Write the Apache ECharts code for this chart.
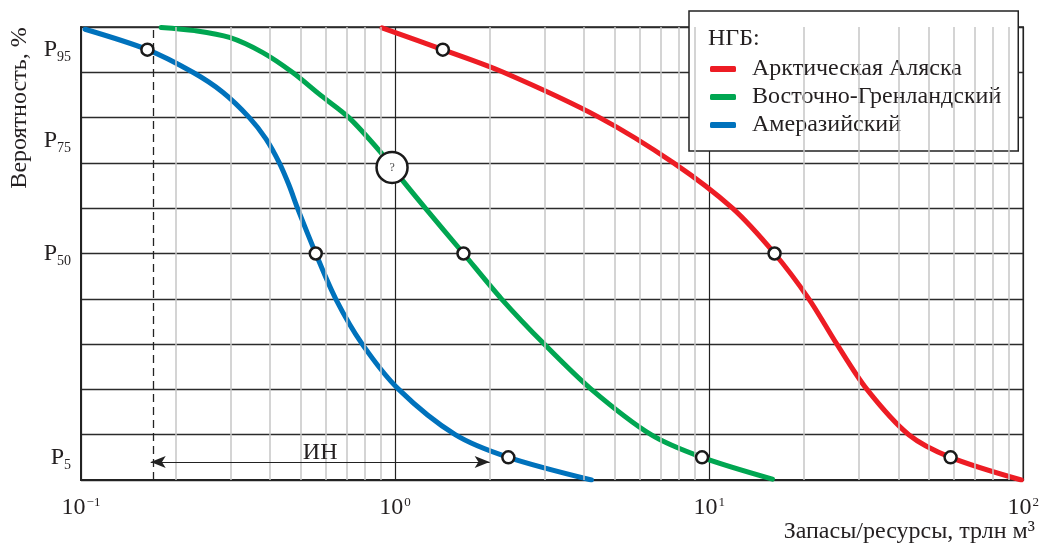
<!DOCTYPE html>
<html><head><meta charset="utf-8">
<script src="https://cdn.jsdelivr.net/npm/echarts@6/dist/echarts.min.js"></script>
<style>html,body{margin:0;padding:0;background:#fff}#c{width:1042px;height:545px}</style>
</head><body><div id="c"></div>
<script>
const FONT = '"Liberation Serif", "DejaVu Serif", "Times New Roman", serif';
const TXT = '#231f20';
const FS = 24;

// ---- data ----
const seriesNames = ['Арктическая Аляска', 'Восточно-Гренландский', 'Амеразийский'];
const seriesColors = ['#ed1c24', '#00a651', '#0072bc'];

const alaskaX = [0.909, 1.419, 2.212, 4.48, 7.7, 11.86, 16.15, 20.76, 25.5, 31.8, 43.2, 58.7, 98.6];
const alaskaY = [99.8, 95, 90, 80, 70, 60, 50, 40, 30, 20, 10, 5, 0];

const greenlandX = [0.180, 0.230, 0.297, 0.378, 0.471, 0.580, 0.713, 0.899, 0.978, 1.248, 1.651, 2.18, 2.984, 4.216, 6.53, 9.49, 15.9];
const greenlandY = [99.9, 99.2, 97.7, 94.4, 90, 84.9, 80, 72.4, 69.0, 60, 50, 40, 30, 20, 10, 5, 0.2];

const amerasiaX = [0.103, 0.1627, 0.227, 0.2827, 0.3435, 0.388, 0.428, 0.460, 0.489, 0.559, 0.647, 0.786, 1.027, 1.554, 2.294, 4.22];
const amerasiaY = [99.5, 95, 90, 85.6, 80, 75.3, 70, 65, 60, 50, 40, 30, 20, 10, 5, 0];

const markerY = [95, 50, 5];
const alaskaMarkX = [1.419, 16.15, 58.7];
const greenlandMarkX = [null, 1.651, 9.49];
const amerasiaMarkX = [0.1627, 0.559, 2.294];

const questionX = [0.978];
const questionY = [69.0];

const limitX = 0.1667;          // dashed vertical line
const rangeX = [0.1667, 2.0];   // ИН arrow
const rangeY = 4;
const rangeLabel = 'ИН';

const yLabelValues = [95, 75, 50, 5];
const yLabelTexts = ['95', '75', '50', '5'];
const decades = [0.1, 1, 10];
const minorMult = [2, 3, 4, 5, 6, 7, 8, 9];

// ---- build ----
const pairs = (xs, ys) => xs.map((x, i) => [x, ys[i]]);
const markPairs = [alaskaMarkX, greenlandMarkX, amerasiaMarkX]
  .flatMap(xs => xs.map((x, i) => x == null ? null : [x, markerY[i]]).filter(Boolean));
const minorLines = decades.flatMap(d => minorMult.map(m => ({ xAxis: +(d * m).toPrecision(3) })));

const curves = [pairs(alaskaX, alaskaY), pairs(greenlandX, greenlandY), pairs(amerasiaX, amerasiaY)];

const chart = echarts.init(document.getElementById('c'), null, { renderer: 'canvas' });

const option = {
  animation: false,
  backgroundColor: '#fff',
  grid: { left: 81, right: 15, top: 27, bottom: 65, show: true, borderColor: '#222', borderWidth: 1.5, backgroundColor: 'transparent' },
  xAxis: {
    type: 'log', logBase: 10, min: 0.1, max: 100,
    axisLine: { show: true, lineStyle: { color: '#222', width: 2 } },
    axisTick: { show: false },
    splitLine: { show: true, lineStyle: { color: '#222', width: 1.2 } },
    axisLabel: {
      margin: 15, showMinLabel: true, showMaxLabel: true,
      formatter: v => {
        const e = Math.round(Math.log10(v));
        return '{b|10}{s|' + (e < 0 ? '\u2212' + (-e) : e) + '}';
      },
      rich: {
        b: { fontSize: FS, fontFamily: FONT, color: TXT, lineHeight: 26 },
        s: { fontSize: 13, fontFamily: FONT, color: TXT, verticalAlign: 'top', padding: [1, 0, 0, 1] }
      }
    }
  },
  yAxis: [
    {
      type: 'value', min: 0, max: 100, interval: 10,
      axisLine: { show: true, lineStyle: { color: '#222', width: 2 } },
      axisTick: { show: false }, axisLabel: { show: false },
      splitLine: { show: true, lineStyle: { color: '#2b2b2b', width: 1.3 } }
    },
    {
      type: 'value', min: 0, max: 100, interval: 5, position: 'left', offset: 0,
      axisLine: { show: false }, axisTick: { show: false }, splitLine: { show: false },
      axisLabel: {
        margin: 10,
        formatter: v => {
          const i = yLabelValues.indexOf(v);
          return i < 0 ? '' : '{p|P}{n|' + yLabelTexts[i] + '}';
        },
        rich: {
          p: { fontSize: FS, fontFamily: FONT, color: TXT, lineHeight: 30 },
          n: { fontSize: 14, fontFamily: FONT, color: TXT, verticalAlign: 'bottom' }
        }
      }
    }
  ],
  legend: {
    data: seriesNames, orient: 'vertical', left: 689, top: 11,
    icon: 'roundRect', itemWidth: 26, itemHeight: 6, itemGap: 4,
    padding: [46, 17, 14, 21],
    backgroundColor: '#fff', borderColor: '#222', borderWidth: 1.5, borderRadius: 0,
    textStyle: { fontSize: FS, fontFamily: FONT, color: TXT, padding: [0, 0, 0, 11] },
    selectedMode: false
  },
  graphic: [
    { type: 'text', x: 708, y: 39, z: 100, style: { text: 'НГБ:', font: FS + 'px ' + FONT, fill: TXT, align: 'left', verticalAlign: 'middle' } },
    { type: 'text', x: 20, y: 108, rotation: Math.PI / 2, style: { text: 'Вероятность, %', font: FS + 'px ' + FONT, fill: TXT, align: 'center', verticalAlign: 'middle' } },
    { type: 'text', x: 1035, y: 532, style: { text: 'Запасы/ресурсы, трлн м³', font: FS + 'px ' + FONT, fill: TXT, align: 'right', verticalAlign: 'middle' } }
  ],
  series: [
    {
      name: 'minorGrid', type: 'line', data: [], z: 1, silent: true,
      markLine: {
        silent: true, symbol: 'none', animation: false,
        label: { show: false },
        lineStyle: { color: '#c6c6c6', width: 1.5, type: 'solid' },
        data: minorLines
      }
    },
    {
      name: 'limit', type: 'line', data: [], z: 2, silent: true,
      markLine: {
        silent: true, symbol: 'none', animation: false,
        label: { show: false },
        lineStyle: { color: '#222', width: 1.3, type: [8, 5] },
        data: [{ xAxis: limitX }]
      }
    },
    {
      name: 'range', type: 'line', data: [], z: 2, silent: true,
      markLine: {
        silent: true, animation: false,
        symbol: ['arrow', 'arrow'], symbolSize: [9, 15],
        lineStyle: { color: '#222', width: 1.2, type: 'solid' },
        label: { show: true, position: 'middle', formatter: rangeLabel, fontSize: FS, fontFamily: FONT, color: TXT, distance: -3 },
        data: [[{ coord: [rangeX[0], rangeY] }, { coord: [rangeX[1], rangeY] }]]
      }
    },
    ...seriesNames.map((n, i) => ({
      name: n, type: 'line', data: curves[i], smooth: 0.3, symbol: 'none', z: 3,
      lineStyle: { color: seriesColors[i], width: 5, cap: 'round' },
      itemStyle: { color: seriesColors[i] }
    })),
    {
      name: 'markers', type: 'scatter', data: markPairs, z: 5, symbol: 'circle', symbolSize: 12,
      itemStyle: { color: '#fff', borderColor: '#1a1a1a', borderWidth: 2.5, opacity: 1 }
    },
    {
      name: 'question', type: 'scatter', data: pairs(questionX, questionY), z: 6, symbol: 'circle', symbolSize: 31,
      itemStyle: { color: '#fff', borderColor: '#1a1a1a', borderWidth: 2.5, opacity: 1 },
      label: { show: true, position: 'inside', formatter: '?', fontSize: 12, fontFamily: FONT, color: '#444' }
    }
  ]
};
chart.setOption(option);
</script></body></html>
